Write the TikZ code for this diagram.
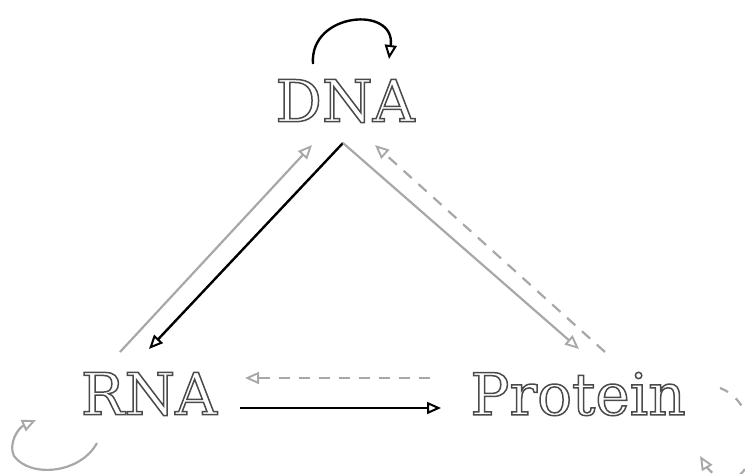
\documentclass[tikz,border=0pt]{standalone}
\usepackage{fontspec}
\setmainfont{DejaVu Serif}
\usetikzlibrary{arrows.meta}
\definecolor{lgray}{HTML}{A8A8A8}
\definecolor{tgray}{HTML}{4A4A4A}
\newcommand\outlinetext[1]{\special{pdf:literal direct 1 Tr 1.5 w}#1\special{pdf:literal direct 0 Tr 1 w}}
\tikzset{
  label/.style={font=\fontsize{58}{66}\selectfont, text=tgray, inner sep=0pt},
  blackarr/.style={draw=black, line width=2.4pt, -{Triangle[open, length=14pt, width=12pt, line width=2pt]}},
  grayarr/.style={draw=lgray, line width=2.2pt, -{Triangle[open, length=14pt, width=12pt, line width=1.9pt]}},
  dashgray/.style={grayarr, dash pattern=on 11pt off 9pt}
}
\begin{document}
\begin{tikzpicture}[x=1pt,y=-1pt]
\useasboundingbox (0,0) rectangle (745,474);
\node[label] (DNA) at (345,101) {\outlinetext{DNA}};
\node[label] (RNA) at (149,394) {\outlinetext{RNA}};
\node[label] (Protein) at (578,394) {\outlinetext{Protein}};

% anchor points
\coordinate (dTop1) at ([shift={(-32,-37)}]DNA.center);
\coordinate (dTop2) at ([shift={(44,-42)}]DNA.center);
\coordinate (dL) at ([shift={(-33,44)}]DNA.center);
\coordinate (dM) at ([shift={(-2,42)}]DNA.center);
\coordinate (dR) at ([shift={(30,44)}]DNA.center);
\coordinate (rTL) at ([shift={(-29,-42)}]RNA.center);
\coordinate (rTR) at ([shift={(0,-45)}]RNA.center);
\coordinate (rL1) at ([shift={(96,-16)}]RNA.center);
\coordinate (rL2) at ([shift={(91,14)}]RNA.center);
\coordinate (rB1) at ([shift={(-52,49)}]RNA.center);
\coordinate (rB2) at ([shift={(-113,26)}]RNA.center);
\coordinate (pL1) at ([shift={(-148,-16)}]Protein.center);
\coordinate (pL2) at ([shift={(-137,14)}]Protein.center);
\coordinate (pTL) at ([shift={(1,-45)}]Protein.center);
\coordinate (pTR) at ([shift={(27,-42)}]Protein.center);
\coordinate (pR1) at ([shift={(142,-6)}]Protein.center);
\coordinate (pR2) at ([shift={(122,62)}]Protein.center);

% DNA self loop
\draw[blackarr] (dTop1) .. controls (309,12) and (396,5) .. (dTop2);
% DNA -> RNA (black)
\draw[blackarr] (dM) -- (rTR);
% RNA -> DNA (gray)
\draw[grayarr] (rTL) -- (dL);
% DNA -> Protein (gray)
\draw[grayarr] (dM) -- (pTL);
% Protein -> DNA dashed
\draw[dashgray] (pTR) -- (dR);
% Protein -> RNA dashed
\draw[dashgray] (pL1) -- (rL1);
% RNA -> Protein black
\draw[blackarr] (rL2) -- (pL2);
% RNA self loop
\draw[grayarr] (rB1) .. controls (80,474) and (30,478) .. (14,456) .. controls (8,444) and (18,428) .. (rB2);
% Protein self loop (dashed)
\draw[dashgray, dash pattern=on 9pt off 10pt] (pR1) .. controls (765,405) and (760,490) .. (720,478) .. controls (712,474) and (706,466) .. (pR2);
\end{tikzpicture}
\end{document}
